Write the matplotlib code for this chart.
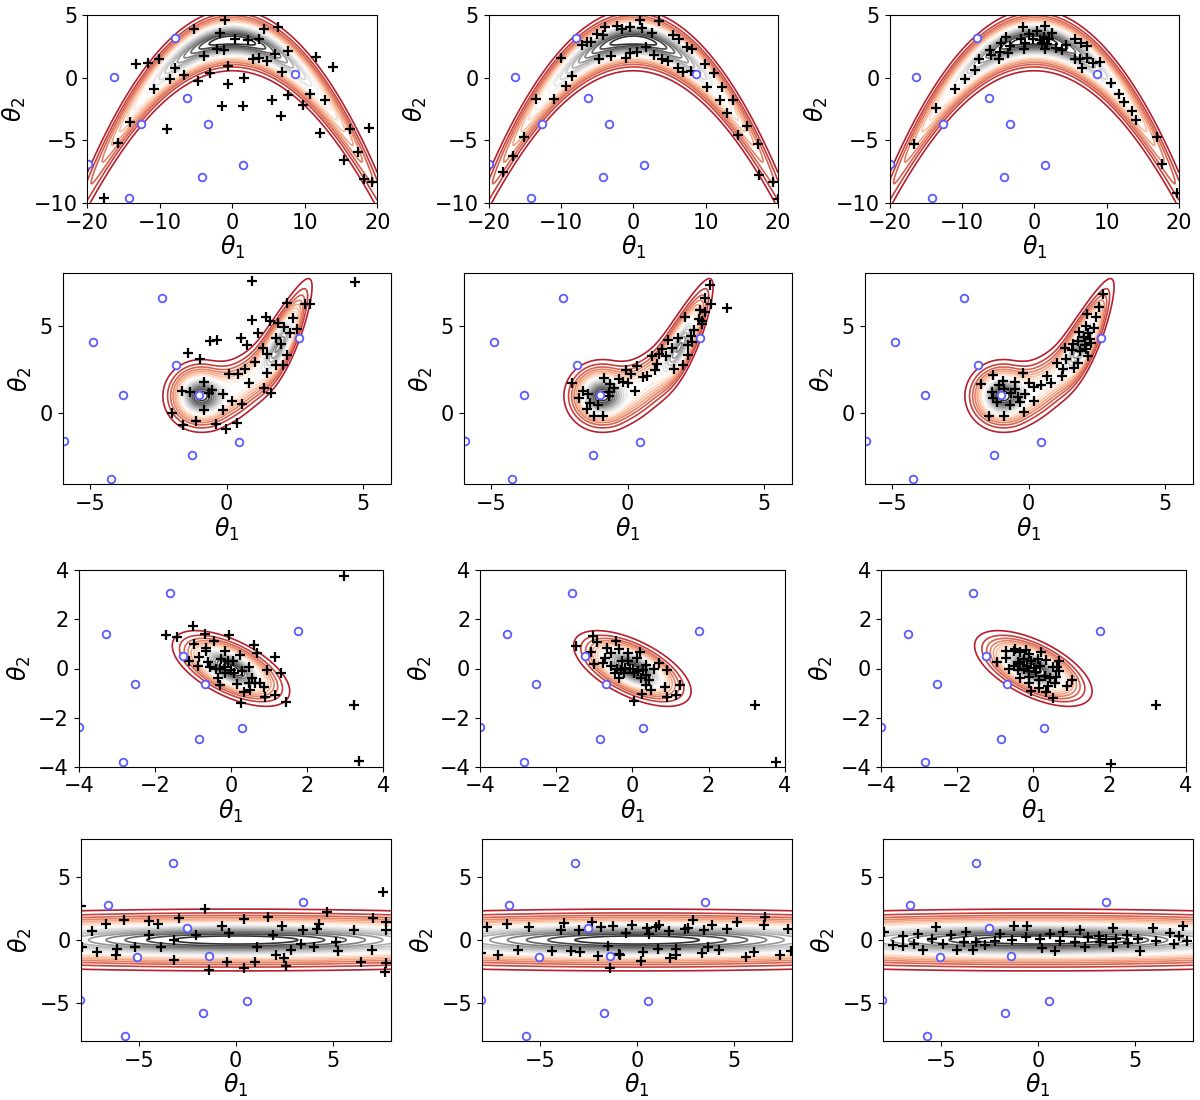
import numpy as np
import matplotlib
matplotlib.use("Agg")
from matplotlib import pyplot as plt
from matplotlib.colors import Normalize

# ---- particles (theta1, theta2) ----
# row 1: banana target
start_banana = [(-7.95, 3.2), (-16.3, 0.08), (-6.25, -1.6), (-12.6, -3.7), (-3.4, -3.7),
                (8.7, 0.3), (-19.9, -6.9), (1.5, -7.0), (-4.2, -7.9), (-14.2, -9.6)]
banana_a = [(-0.97, 4.61), (-5.24, 3.87), (-1.75, 3.6), (4.37, 3.89), (6.34, 4.03), (0.41, 3.12),
            (2.16, 3.01), (3.68, 3.12), (-2.11, 2.29), (-1.2, 2.21), (-3.95, 1.73), (7.72, 2.16),
            (5.84, 1.87), (2.85, 1.47), (3.63, 1.6), (4.78, 1.31), (-13.33, 1.12), (-11.59, 1.2),
            (-10.11, 1.52), (11.49, 1.68), (13.89, 0.83), (-7.95, 0.75), (-6.67, 0.21), (-8.6, -0.13),
            (-4.69, -0.27), (-3.03, 0.4), (-0.6, 0.91), (1.56, 0.0), (-0.6, -0.53), (6.8, 0.43),
            (-10.85, -0.91), (10.67, -1.31), (5.52, -1.79), (7.63, -1.36), (12.74, -1.79),
            (-1.43, -2.29), (1.52, -2.29), (9.75, -2.21), (6.67, -3.07), (-14.16, -3.52),
            (-9.06, -4.13), (-15.77, -5.25), (12.14, -4.4), (16.23, -4.11), (18.8, -4.05),
            (17.38, -5.95), (15.36, -6.59), (18.11, -8.08), (19.31, -8.29), (-17.7, -9.63)]
banana_b = [(0.88, 4.61), (3.5, 4.56), (-3.87, 4.03), (-2.26, 4.11), (-1.61, 3.89), (-0.41, 4.03),
            (1.15, 4.0), (-5.02, 3.47), (-4.15, 3.41), (2.53, 3.57), (-7.1, 2.64), (-6.45, 2.83),
            (-5.85, 2.83), (5.53, 3.41), (6.31, 3.12), (7.46, 2.48), (8.16, 2.27), (1.71, 2.43),
            (0.46, 2.08), (-0.41, 1.95), (-3.09, 1.76), (-4.75, 1.52), (-1.06, 1.55), (2.9, 1.81),
            (3.96, 1.47), (4.79, 1.33), (6.22, 0.77), (6.82, 0.45), (7.97, 0.51), (-10.05, 1.55),
            (-8.48, 0.13), (9.91, 1.07), (11.1, 0.35), (10.18, -0.77), (12.26, -0.77), (-9.31, -0.67),
            (-13.5, -1.73), (-11.0, -1.73), (13.78, -1.79), (11.98, -1.79), (12.9, -2.85),
            (15.76, -3.89), (14.47, -4.56), (-15.07, -4.72), (-16.59, -6.27), (17.19, -5.33),
            (17.42, -7.73), (19.35, -8.29), (-17.97, -7.55), (19.95, -9.68)]
banana_c = [(-1.57, 4.03), (1.47, 4.11), (-0.78, 3.49), (0.41, 3.73), (2.4, 3.6), (-3.87, 3.28),
            (-1.8, 3.07), (-0.18, 3.07), (1.29, 3.28), (2.03, 3.07), (5.58, 3.09), (-4.56, 2.8),
            (-3.41, 2.53), (-1.34, 2.8), (1.06, 2.75), (1.8, 2.67), (4.42, 2.64), (6.4, 2.8),
            (7.33, 2.53), (-6.16, 2.24), (-4.75, 2.03), (-3.59, 1.95), (-1.47, 2.29), (1.47, 2.27),
            (2.94, 2.35), (3.77, 2.21), (-5.98, 1.79), (-7.68, 1.52), (-4.93, 1.52), (5.58, 1.52),
            (6.31, 1.52), (7.33, 1.55), (8.11, 1.15), (9.12, 1.23), (6.54, 0.77), (-8.16, 0.61),
            (-9.59, -0.08), (-10.92, -0.91), (10.55, -0.4), (11.75, -1.28), (12.4, -1.92),
            (13.55, -2.67), (14.06, -3.36), (-13.55, -2.43), (-16.68, -5.28), (16.91, -4.75),
            (17.7, -6.85), (19.77, -9.2), (0.74, 3.01)]

# row 2: bimodal bean target
start_bean = [(-2.38, 6.62), (-4.89, 4.1), (-3.78, 1.03), (-1.85, 2.75), (-1.01, 1.03),
              (2.63, 4.29), (-5.96, -1.56), (0.45, -1.64), (-1.26, -2.35), (-4.23, -3.72)]
bean_a = [(0.93, 7.58), (4.7, 7.5), (2.22, 6.3), (2.87, 6.28), (3.05, 6.28), (1.43, 5.53), (2.44, 5.48),
          (0.93, 5.34), (1.59, 5.29), (1.87, 5.15), (2.09, 4.96), (2.57, 4.83), (1.13, 4.58),
          (2.3, 4.58), (1.79, 4.29), (-0.61, 4.16), (-0.35, 4.2), (0.52, 4.29), (0.74, 3.91),
          (1.98, 3.95), (1.32, 3.72), (-1.43, 3.47), (-0.96, 3.09), (1.49, 3.4), (2.21, 3.36),
          (1.04, 2.96), (1.79, 2.77), (2.05, 2.77), (0.68, 2.52), (0.1, 2.25), (0.41, 2.25),
          (1.48, 2.29), (0.82, 1.76), (-0.83, 1.81), (1.35, 1.47), (-1.65, 1.3), (-1.33, 1.24),
          (-0.63, 1.18), (-0.52, 1.34), (-0.13, 1.09), (1.61, 1.15), (0.18, 0.73), (0.55, 0.53),
          (-0.83, 0.19), (-0.13, 0.19), (-2.01, 0.04), (-1.59, -0.67), (-1.11, -0.42),
          (-0.39, -0.59), (-0.02, -0.88), (0.37, -0.52)]
bean_b = [(3.01, 7.35), (2.83, 6.62), (3.05, 6.28), (3.62, 6.01), (2.65, 5.9), (2.83, 5.78), (2.11, 5.53),
          (2.6, 5.38), (2.73, 5.29), (2.71, 5.13), (2.43, 4.77), (2.3, 4.45), (1.83, 4.31), (1.49, 4.18),
          (2.35, 4.1), (2.22, 3.91), (1.61, 3.76), (1.24, 3.66), (1.16, 3.4), (1.4, 3.3), (0.88, 3.28),
          (2.22, 3.36), (1.07, 2.84), (0.33, 2.73), (2.01, 2.77), (1.68, 2.52), (1.0, 2.48),
          (-0.07, 2.48), (0.11, 2.25), (0.55, 2.1), (0.7, 2.14), (-0.85, 2.0), (-0.32, 1.95),
          (-0.18, 1.81), (0.0, 1.76), (-0.65, 1.66), (-2.02, 1.76), (-0.5, 1.43), (0.27, 1.3),
          (-1.65, 1.3), (-1.46, 1.09), (-0.68, 1.24), (-0.68, 1.01), (-1.78, 0.86), (-1.39, 0.57),
          (-1.1, 0.48), (-1.5, 0.25), (-1.24, -0.13), (-0.89, -0.13)]
bean_c = [(2.72, 6.83), (2.57, 6.11), (2.13, 5.67), (2.48, 5.53), (2.09, 5.0), (2.38, 4.87), (1.85, 4.66),
          (2.18, 4.58), (2.01, 4.39), (2.26, 4.27), (2.29, 4.05), (1.8, 4.16), (1.61, 3.97), (1.34, 3.72),
          (2.05, 3.91), (2.09, 3.68), (1.59, 3.63), (1.89, 3.57), (2.16, 3.3), (1.37, 3.09), (1.04, 2.86),
          (1.8, 2.86), (1.24, 2.54), (1.65, 2.58), (0.67, 2.16), (-0.22, 2.31), (1.22, 2.14),
          (0.82, 1.76), (0.46, 1.62), (0.18, 1.51), (0.0, 1.76), (-1.29, 2.21), (-1.74, 1.66),
          (-0.49, 1.81), (-0.95, 1.87), (-1.1, 1.62), (-0.91, 1.39), (-0.49, 1.39), (-1.35, 1.24),
          (-0.65, 1.15), (-0.13, 1.09), (-0.4, 0.95), (-1.3, 0.86), (-0.32, 0.67), (-0.7, 0.48),
          (0.18, 0.73), (-1.16, 0.63), (-1.46, -0.15), (-0.9, -0.15), (-0.18, 0.1)]

# row 3: correlated gaussian target
start_gauss = [(-1.59, 3.08), (-3.28, 1.4), (1.75, 1.51), (-1.25, 0.49), (-2.53, -0.65),
               (-0.68, -0.64), (-4.0, -2.38), (0.29, -2.43), (-0.84, -2.89), (-2.84, -3.82)]
gauss_a = [(2.98, 3.78), (-1.01, 1.74), (-1.71, 1.36), (-1.42, 1.28), (-0.68, 1.4), (-0.05, 1.36),
           (-0.44, 1.13), (-0.96, 0.99), (0.61, 0.94), (-0.66, 0.84), (-0.66, 0.72), (-0.15, 0.72),
           (0.24, 0.57), (0.68, 0.65), (1.16, 0.46), (-0.84, 0.45), (-1.11, 0.31), (-0.25, 0.38),
           (-0.08, 0.31), (0.06, 0.31), (-0.6, 0.27), (-0.87, 0.12), (-0.55, 0.08), (-0.17, 0.08),
           (0.46, 0.08), (-0.39, -0.01), (-0.3, -0.01), (-0.01, -0.08), (0.07, -0.2), (0.3, -0.11),
           (0.94, -0.05), (-0.15, -0.2), (1.32, -0.19), (-0.33, -0.39), (0.56, -0.37), (0.17, -0.62),
           (0.46, -0.58), (0.62, -0.58), (0.75, -0.58), (-0.28, -0.69), (0.87, -0.75), (0.5, -0.86),
           (0.34, -0.95), (1.15, -1.06), (0.9, -1.18), (1.44, -1.36), (0.25, -1.41), (3.22, -1.48),
           (3.35, -3.75)]
gauss_b = [(-1.03, 1.32), (-1.48, 0.91), (-0.93, 1.06), (-0.44, 1.13), (-1.09, 0.68), (-0.66, 0.83),
           (-0.55, 0.65), (-0.36, 0.79), (-0.11, 0.63), (0.2, 0.69), (0.11, 0.43), (-0.71, 0.42),
           (-0.78, 0.23), (-1.02, 0.2), (-0.27, 0.29), (-0.12, 0.29), (0.37, 0.16), (0.7, 0.22),
           (-0.57, 0.1), (-0.41, -0.01), (-0.31, -0.05), (-0.18, 0.03), (-0.05, -0.03), (0.01, -0.04),
           (0.15, -0.1), (0.29, -0.05), (0.58, -0.04), (0.92, -0.07), (-0.46, -0.2), (-0.23, -0.2),
           (-0.34, -0.38), (0.05, -0.2), (0.22, -0.37), (0.36, -0.26), (0.45, -0.46), (0.36, -0.69),
           (0.49, -0.87), (0.87, -0.75), (1.25, -0.69), (0.25, -1.03), (0.9, -1.18), (1.14, -1.06),
           (0.05, -1.33), (3.21, -1.48), (3.77, -3.79)]
gauss_c = [(-0.71, 0.73), (-0.52, 0.72), (-0.48, 0.8), (-0.34, 0.69), (-0.18, 0.77), (-0.11, 0.6),
           (0.2, 0.69), (-0.71, 0.43), (-0.95, 0.26), (-0.41, 0.26), (-0.25, 0.39), (-0.07, 0.3),
           (0.11, 0.39), (0.32, 0.35), (0.67, 0.31), (-0.52, 0.1), (-0.35, 0.19), (-0.17, 0.12),
           (0.03, 0.01), (0.18, 0.12), (0.52, 0.08), (0.62, 0.08), (-0.65, -0.01), (-0.41, -0.07),
           (-0.25, -0.04), (-0.11, -0.12), (0.07, -0.14), (0.68, -0.12), (-0.35, -0.39), (-0.12, -0.35),
           (0.14, -0.46), (0.3, -0.29), (0.43, -0.37), (0.6, -0.35), (1.02, -0.45), (-0.11, -0.6),
           (0.58, -0.58), (0.39, -0.73), (0.88, -0.73), (-0.06, -0.91), (0.16, -0.8), (0.32, -0.95),
           (0.51, -1.21), (3.22, -1.48), (2.04, -3.91)]

# row 4: stretched gaussian target
start_flat = [(-3.21, 6.08), (-6.58, 2.75), (3.49, 2.99), (-2.51, 0.95), (-5.07, -1.32),
              (-1.39, -1.3), (-8.04, -4.76), (0.57, -4.84), (-1.7, -5.77), (-5.7, -7.59)]
flat_a = [(-7.97, 2.67), (7.58, 3.78), (-1.56, 2.43), (4.71, 2.22), (-2.94, 1.77), (-5.77, 1.56),
          (-4.48, 1.51), (-4.0, 1.27), (-6.68, 1.27), (0.41, 1.69), (1.65, 1.85), (7.1, 1.72),
          (7.73, 1.43), (4.28, 1.24), (4.18, 0.87), (2.37, 1.14), (3.47, 0.82), (-0.7, 1.11),
          (-7.41, 0.69), (-0.33, 0.53), (-2.03, 0.4), (-4.47, 0.4), (1.94, 0.4), (6.1, 0.77),
          (7.77, 0.77), (-3.18, 0.03), (-7.94, -0.53), (-5.21, -0.53), (-3.85, -0.53), (-6.12, -0.74),
          (3.35, -0.29), (4.04, -0.53), (5.15, -0.19), (1.12, -0.58), (2.85, -0.79), (5.26, -0.87),
          (7.04, -0.79), (-7.16, -0.95), (-6.17, -1.19), (2.08, -1.16), (2.51, -1.4), (-3.18, -1.59),
          (-0.45, -1.77), (0.98, -1.77), (6.46, -1.77), (7.73, -1.85), (2.61, -2.06), (0.41, -2.2),
          (-1.37, -2.38), (7.68, -2.51)]
flat_b = [(-7.75, 1.03), (-6.7, 1.27), (-5.55, 1.03), (-3.78, 1.38), (-3.92, 0.77), (-3.01, 0.77),
          (-2.3, 1.46), (-1.86, 1.06), (-1.25, 1.14), (-0.24, 1.19), (-0.58, 0.53), (0.52, 0.98),
          (0.64, 0.45), (0.96, 1.06), (1.15, 1.16), (1.63, 0.71), (2.46, 0.9), (2.63, 0.98),
          (2.89, 1.56), (3.45, 0.82), (3.85, 1.19), (4.66, 0.9), (5.14, 1.43), (6.6, 1.85),
          (6.57, 1.19), (7.77, 0.9), (-8.04, -1.01), (-7.18, -1.19), (-6.13, -0.77), (-4.38, -0.87),
          (-3.38, -0.87), (-2.94, -0.95), (-1.51, -0.5), (-2.01, -1.24), (-0.95, -1.08), (-0.88, -1.19),
          (0.29, -0.95), (1.1, -0.71), (0.19, -1.69), (-1.39, -2.2), (1.72, -1.46), (2.01, -0.71),
          (2.01, -1.22), (3.35, -1.03), (3.64, -0.53), (4.23, -0.77), (5.62, -1.32), (6.05, -0.95),
          (7.37, -1.19), (7.96, -0.87)]
flat_c = [(-7.96, 0.61), (-7.46, -0.37), (-6.94, 0.29), (-6.96, -0.5), (-6.41, -0.29), (-6.2, 0.5),
          (-5.93, -0.79), (-5.46, 0.08), (-5.26, 1.03), (-4.88, -0.34), (-4.5, 0.4), (-4.16, -0.79),
          (-3.8, -0.13), (-3.73, 0.61), (-3.33, -0.77), (-3.21, -0.19), (-2.73, -0.37), (-2.23, -0.05),
          (-1.94, 0.45), (-1.34, 0.03), (-1.24, 1.11), (-0.58, 1.11), (-0.62, 0.24), (0.12, 0.08),
          (0.19, -0.66), (0.64, 0.45), (0.86, -0.85), (1.15, -0.05), (1.31, 0.61), (1.89, -0.19),
          (2.16, 0.77), (2.44, -0.56), (2.56, 0.24), (3.16, 0.34), (3.18, -0.13), (3.51, 0.08),
          (3.85, 0.98), (3.88, -0.58), (4.04, 0.08), (4.6, 0.4), (4.66, -0.26), (5.15, 0.08),
          (5.24, -0.87), (5.95, 0.98), (6.1, -0.05), (6.8, 0.56), (6.99, -0.34), (7.29, 0.29),
          (7.46, 1.09), (7.68, -0.05)]

# target parameters
BANANA_B, BANANA_S1 = 0.03, 10.0
GAUSS_S, GAUSS_RHO = 0.63, -0.6
FLAT_S1, FLAT_S2 = 10.0, 1.0


def banana(t1, t2):
    return np.exp(-t1**2 / (2 * BANANA_S1**2) - (t2 + BANANA_B * t1**2 - 100 * BANANA_B)**2 / 2)


def bean(t1, t2):
    v = t2 - 1.0 - 0.45 * np.maximum(t1 + 0.6, 0)**2
    g = (0.85 * np.exp(-(t1 + 1.0)**2 / (2 * 0.55**2))
         + 0.40 * np.exp(-(t1 - 0.4)**2 / (2 * 0.9**2))
         + 0.70 * np.exp(-(t1 - 1.95)**2 / (2 * 0.5**2)))
    return g * np.exp(-v**2 / (2 * 0.85**2))


def gauss(t1, t2):
    q = (t1**2 - 2 * GAUSS_RHO * t1 * t2 + t2**2) / (GAUSS_S**2 * (1 - GAUSS_RHO**2))
    return np.exp(-q / 2)


def flat(t1, t2):
    return np.exp(-t1**2 / (2 * FLAT_S1**2) - t2**2 / (2 * FLAT_S2**2))


rows = [
    (banana, start_banana, [banana_a, banana_b, banana_c], (-20, 20), (-10, 5),
     [-20, -10, 0, 10, 20], [-10, -5, 0, 5]),
    (bean, start_bean, [bean_a, bean_b, bean_c], (-6, 6), (-4.05, 8),
     [-5, 0, 5], [0, 5]),
    (gauss, start_gauss, [gauss_a, gauss_b, gauss_c], (-4, 4), (-4, 4),
     [-4, -2, 0, 2, 4], [-4, -2, 0, 2, 4]),
    (flat, start_flat, [flat_a, flat_b, flat_c], (-8, 8), (-8, 8),
     [-5, 0, 5], [-5, 0, 5]),
]

# axes boxes in pixels: (left, right) per column, (top, bottom) per row
col_px = [
    [(87.3, 377.3), (488.7, 778.0), (889.7, 1179.0)],
    [(62.7, 390.7), (463.7, 791.7), (864.7, 1192.7)],
    [(78.7, 383.3), (480.0, 784.7), (881.0, 1185.7)],
    [(80.5, 390.9), (481.8, 792.2), (882.8, 1193.2)],
]
row_px = [(15, 203), (273.5, 484.3), (570.3, 766.7), (839, 1041)]

W, H = 1200, 1100
fig = plt.figure(figsize=(12, 11), dpi=100)

levels = np.arange(0.05, 1.0, 0.05)
norm = Normalize(vmin=-0.07, vmax=1.0)

for r, (dens, start, runs, xlim, ylim, xt, yt) in enumerate(rows):
    gx = np.linspace(xlim[0], xlim[1], 400)
    gy = np.linspace(ylim[0], ylim[1], 400)
    X, Y = np.meshgrid(gx, gy)
    Z = dens(X, Y)
    Z = Z / Z.max()
    top, bot = row_px[r]
    for c in range(3):
        left, right = col_px[r][c]
        ax = fig.add_axes([left / W, 1 - bot / H, (right - left) / W, (bot - top) / H])
        ax.contour(X, Y, Z, levels=levels, cmap="RdGy", norm=norm, linewidths=1.2)
        pts = np.array(runs[c])
        ax.plot(pts[:, 0], pts[:, 1], "+", color="black", markersize=7, mew=1.6)
        s = np.array(start)
        ax.plot(s[:, 0], s[:, 1], "o", markerfacecolor="white", markeredgecolor="#5a5aff",
                markersize=5.5, mew=1.3)
        ax.set_xlim(xlim)
        ax.set_ylim(ylim)
        ax.set_xticks(xt)
        ax.set_yticks(yt)
        ax.tick_params(labelsize=15)
        ax.set_xlabel(r"$\theta_1$", fontsize=17, labelpad=1)
        ax.set_ylabel(r"$\theta_2$", fontsize=17)

fig.savefig("out.png", dpi=100)
